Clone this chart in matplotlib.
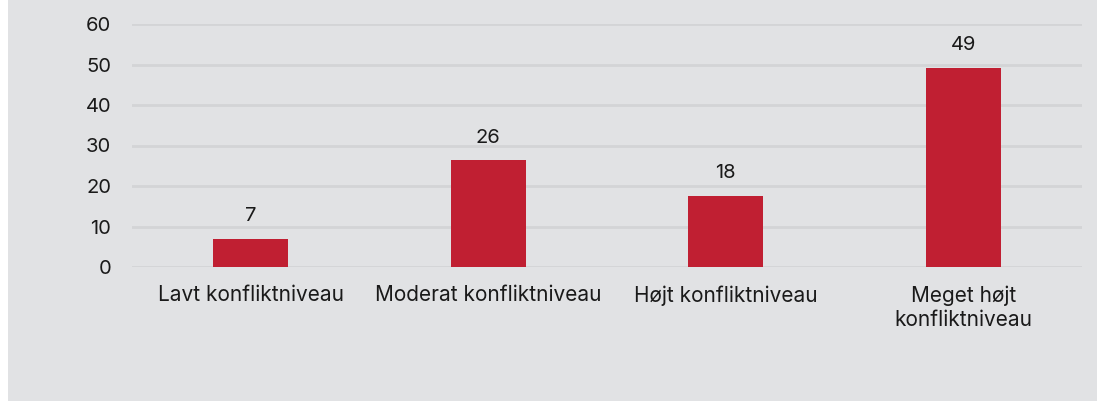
import matplotlib.pyplot as plt
from matplotlib.patches import Rectangle

categories = ["Lavt konfliktniveau", "Moderat konfliktniveau", "Højt konfliktniveau", "Meget højt\nkonfliktniveau"]
values = [6.9, 26.3, 17.5, 49.1]
value_labels = ["7", "26", "18", "49"]
yticks = [0, 10, 20, 30, 40, 50, 60]

plt.rcParams['font.family'] = ['Inter', 'DejaVu Sans']

W, H = 1097, 401
fig = plt.figure(figsize=(W / 100, H / 100), dpi=100, facecolor="white")
# gray panel behind the chart
fig.patches.append(Rectangle((8 / W, 0), 1 - 8 / W, 1, transform=fig.transFigure,
                             facecolor="#e1e2e4", edgecolor="none", zorder=-10))

ax = fig.add_axes([132 / W, 134 / H, 950 / W, 243 / H])
ax.set_facecolor("none")

x = range(len(categories))
bars = ax.bar(x, values, width=0.316, color="#c01f32", zorder=3)
for rect, lab in zip(bars, value_labels):
    ax.annotate(lab, (rect.get_x() + rect.get_width() / 2, rect.get_height()),
                xytext=(0, 10), textcoords="offset points", ha="center", va="bottom",
                fontsize=14.5, color="#1a1a1a")

ax.set_xlim(-0.5, 3.5)
ax.set_ylim(0, 60)
ax.set_yticks(yticks)
ax.set_xticks(list(x))
ax.set_xticklabels(categories, linespacing=1.25)
ax.grid(axis="y", color="#d3d4d6", linewidth=2, zorder=0)
ax.tick_params(axis="y", length=0, pad=15, labelsize=14.5, labelcolor="#1a1a1a")
ax.tick_params(axis="x", length=0, pad=13, labelsize=15, labelcolor="#1a1a1a")
for s in ax.spines.values():
    s.set_visible(False)

fig.savefig("out.png", dpi=100, facecolor=fig.get_facecolor())
